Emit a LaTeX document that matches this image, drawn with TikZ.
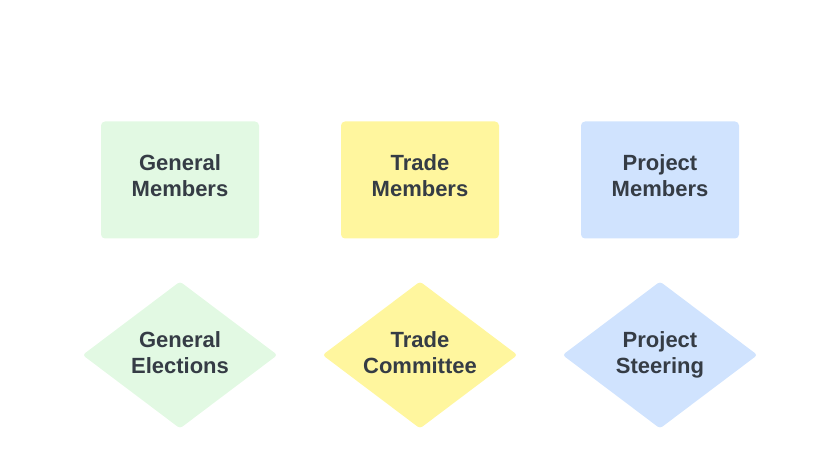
\documentclass[tikz,border=0pt]{standalone}
\usepackage{fontspec}
\setmainfont{Liberation Sans}
\usetikzlibrary{shapes.geometric}
\definecolor{gfill}{HTML}{E2F9E3}
\definecolor{yfill}{HTML}{FFF69E}
\definecolor{bfill}{HTML}{D0E3FE}
\definecolor{txt}{HTML}{353C45}
\tikzset{
  lbl/.style={text=txt, font=\fontsize{22}{26}\selectfont\bfseries, align=center, inner sep=0pt},
  boxnode/.style={rectangle, rounded corners=4pt, minimum width=158pt, minimum height=117pt, inner sep=0pt},
  dianode/.style={diamond, rounded corners=3pt, minimum width=195pt, minimum height=147pt, inner sep=0pt, aspect=1.33},
}
\begin{document}
\begin{tikzpicture}[x=1pt,y=-1pt]
\useasboundingbox (0,0) rectangle (840,470);
\node[boxnode, fill=gfill] (gm) at (180,180) {};
\node[boxnode, fill=yfill] (tm) at (420,180) {};
\node[boxnode, fill=bfill] (pm) at (660,180) {};
\node[dianode, fill=gfill] (ge) at (180,355) {};
\node[dianode, fill=yfill] (tc) at (420,355) {};
\node[dianode, fill=bfill] (ps) at (660,355) {};
\node[lbl, yshift=1.2pt] (gmt) at (gm.center) {\strut General\\\strut Members};
\node[lbl, yshift=1.2pt] (tmt) at (tm.center) {\strut Trade\\\strut Members};
\node[lbl, yshift=1.2pt] (pmt) at (pm.center) {\strut Project\\\strut Members};
\node[lbl] (get) at (ge.center) {\strut General\\\strut Elections};
\node[lbl] (tct) at (tc.center) {\strut Trade\\\strut Committee};
\node[lbl] (pst) at (ps.center) {\strut Project\\\strut Steering};
\end{tikzpicture}
\end{document}
